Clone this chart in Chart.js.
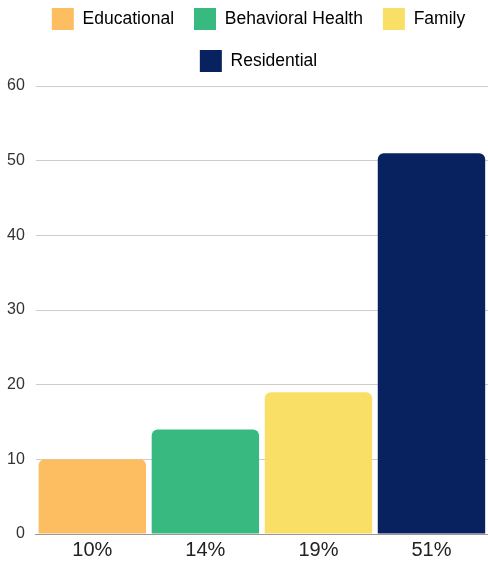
<!DOCTYPE html>
<html><head><meta charset="utf-8">
<script src="https://cdn.jsdelivr.net/npm/chart.js@4"></script>
<style>html,body{margin:0;padding:0;background:#fff}#w{width:488px;height:566px}</style>
</head><body><div id="w"><canvas id="c"></canvas></div>
<script>
const categories = ["10%", "14%", "19%", "51%"];
const seriesNames = ["Educational", "Behavioral Health", "Family", "Residential"];
const values = [10, 14, 19, 51];
const colors = ["#FCBE60", "#37B97F", "#FADF67", "#08225F"];
const yTicks = [0, 10, 20, 30, 40, 50, 60];

const legendAdjust = {
  id: 'legendAdjust',
  afterInit(chart) {
    const lg = chart.legend;
    if (!lg) return;
    const fit = lg.fit;
    lg.fit = function () { fit.call(this); this.height += 4; };
    const draw = lg.draw;
    lg.draw = function () {
      const ctx = this.ctx;
      ctx.save();
      ctx.translate(16, 0);
      draw.apply(this, arguments);
      ctx.restore();
    };
  }
};

new Chart(document.getElementById('c'), {
  type: 'bar',
  data: {
    labels: categories,
    datasets: [{
      data: values,
      backgroundColor: colors,
      borderRadius: {topLeft: 6, topRight: 6, bottomLeft: 0, bottomRight: 0},
      borderSkipped: 'bottom',
      barPercentage: 0.95,
      categoryPercentage: 1.0
    }]
  },
  plugins: [legendAdjust],
  options: {
    responsive: true,
    maintainAspectRatio: false,
    animation: false,
    layout: {padding: {top: -12, right: -1, left: -4, bottom: 0}},
    plugins: {
      tooltip: {enabled: false},
      legend: {
        position: 'top',
        labels: {
          font: {family: 'Liberation Sans, Arial', size: 17.5},
          color: '#222',
          boxWidth: 22, boxHeight: 22, padding: 20,
          generateLabels: () => seriesNames.map((n, i) => ({
            text: n, fillStyle: colors[i], strokeStyle: colors[i], lineWidth: 0, hidden: false, index: i
          }))
        }
      }
    },
    scales: {
      x: {
        grid: {display: false, drawTicks: false},
        border: {color: '#999'},
        ticks: {font: {family: 'Liberation Sans, Arial', size: 20}, color: '#222', padding: 4}
      },
      y: {
        min: 0, max: 60,
        afterBuildTicks: (s) => { s.ticks = yTicks.map(v => ({value: v})); },
        grid: {color: '#cccccc', drawTicks: false},
        border: {display: false},
        ticks: {font: {family: 'Liberation Sans, Arial', size: 16}, color: '#333', padding: 11}
      }
    }
  }
});
</script>
</body></html>
